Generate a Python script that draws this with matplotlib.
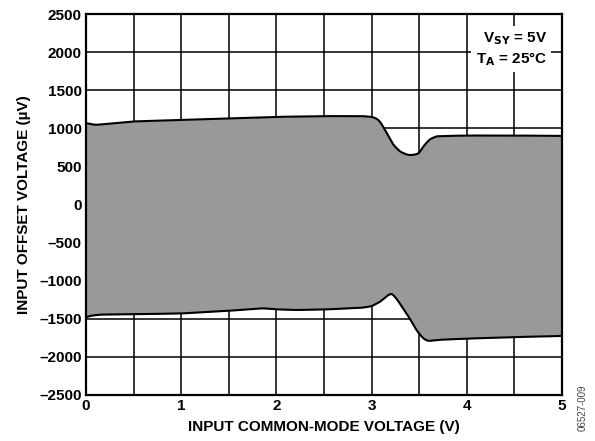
import matplotlib
matplotlib.use('Agg')
import matplotlib.pyplot as plt
import numpy as np

plt.rcParams['font.family'] = ['Liberation Sans', 'DejaVu Sans']
plt.rcParams['font.weight'] = 'bold'

# Upper and lower envelope of input offset voltage (uV) vs common-mode voltage (V)
upper_x = [0.0, 0.03, 0.1, 0.2, 0.5, 1.0, 1.5, 2.0, 2.5, 2.9, 3.0, 3.05, 3.09, 3.16, 3.23, 3.30,
           3.38, 3.44, 3.50, 3.54, 3.61, 3.68, 3.8, 4.0, 4.5, 5.0]
upper_y = [1070, 1060, 1045, 1055, 1090, 1110, 1130, 1150, 1160, 1160, 1150, 1130, 1087, 938, 780, 693,
           650, 650, 672, 758, 855, 895, 900, 905, 905, 900]

lower_x = [0.0, 0.05, 0.15, 0.5, 1.0, 1.5, 1.85, 2.0, 2.2, 2.5, 2.9, 3.0, 3.09, 3.16, 3.21, 3.26,
           3.33, 3.40, 3.47, 3.54, 3.59, 3.65, 3.72, 4.0, 4.5, 5.0]
lower_y = [-1480, -1460, -1445, -1440, -1430, -1395, -1362, -1376, -1385, -1378, -1355, -1335, -1276, -1200, -1166, -1232,
           -1362, -1493, -1647, -1756, -1791, -1785, -1775, -1760, -1740, -1725]

x_ticks = [0, 1, 2, 3, 4, 5]
y_ticks = [2500, 2000, 1500, 1000, 500, 0, -500, -1000, -1500, -2000, -2500]

fig = plt.figure(figsize=(5.95, 4.41), dpi=100)
ax = fig.add_axes([86 / 595, 1 - 395 / 441, 476 / 595, 381 / 441])

# Interpolate both envelopes on a common grid for the fill
xs = np.linspace(0, 5, 1001)
up = np.interp(xs, upper_x, upper_y)
lo = np.interp(xs, lower_x, lower_y)
# light smoothing so the outline is not angular
k = np.ones(9) / 9
up_s = np.convolve(np.pad(up, 4, mode='edge'), k, mode='valid')
lo_s = np.convolve(np.pad(lo, 4, mode='edge'), k, mode='valid')
ax.fill_between(xs, lo_s, up_s, color='#999999', lw=0, zorder=3)
ax.plot(xs, up_s, color='black', lw=1.5, zorder=4)
ax.plot(xs, lo_s, color='black', lw=1.5, zorder=4)

ax.set_xlim(0, 5)
ax.set_ylim(-2500, 2500)
ax.set_xticks(np.arange(0, 5.01, 0.5))
ax.set_xticklabels(['0', '', '1', '', '2', '', '3', '', '4', '', '5'])
ax.set_yticks(y_ticks)
ax.set_yticklabels([str(v).replace('-', '\u2013') for v in y_ticks])
ax.grid(True, color='black', lw=1.1, zorder=1)
ax.tick_params(length=0, labelsize=11, pad=3)
for lbl in ax.get_xticklabels() + ax.get_yticklabels():
    lbl.set_fontweight('bold')
for s in ax.spines.values():
    s.set_linewidth(1.6)
    s.set_zorder(5)

ax.set_xlabel('INPUT COMMON-MODE VOLTAGE (V)', fontsize=11, fontweight='bold', labelpad=5)
ax.set_ylabel('INPUT OFFSET VOLTAGE (\u00b5V)', fontsize=11, fontweight='bold', labelpad=6)

ax.text(0.968, 0.958, 'V$_{\\mathbf{SY}}$ = 5V\nT$_{\\mathbf{A}}$ = 25\u00b0C', transform=ax.transAxes,
        ha='right', va='top', fontsize=11, fontweight='bold', linespacing=1.25,
        bbox=dict(facecolor='white', edgecolor='none', pad=3), zorder=6)

fig.text(583 / 595, 1 - 408 / 441, '06527-009', rotation=90, fontsize=7, fontweight='normal',
         color='#444444', ha='center', va='center')

fig.savefig('out.png', dpi=100)
